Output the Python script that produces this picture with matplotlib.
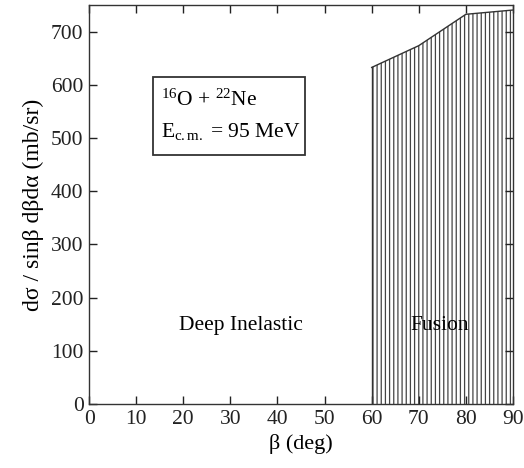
import matplotlib
matplotlib.use("Agg")
import matplotlib.pyplot as plt
from matplotlib.patches import Rectangle

beta = [60, 70, 80, 90]
sigma = [633, 674, 733, 741]
xticks = [0, 10, 20, 30, 40, 50, 60, 70, 80, 90]
yticks = [0, 100, 200, 300, 400, 500, 600, 700]

plt.rcParams['font.family'] = ['Liberation Serif', 'DejaVu Serif']
plt.rcParams['mathtext.fontset'] = 'custom'
plt.rcParams['mathtext.rm'] = 'Liberation Serif'
plt.rcParams['mathtext.it'] = 'Liberation Serif:italic'
plt.rcParams['hatch.linewidth'] = 0.9
plt.rcParams['hatch.color'] = '#444444'

fig = plt.figure(figsize=(5.24, 4.68), dpi=100)
ax = fig.add_axes([0.170, 0.1368, 0.809, 0.852])

ax.fill_between(beta, 0, sigma, facecolor='white', edgecolor='#444444',
                hatch='||||', linewidth=0)
ax.plot(beta, sigma, color='#333333', lw=1.0)
ax.plot([beta[0], beta[0]], [0, sigma[0]], color='#333333', lw=1.0)

ax.set_xlim(0, 90)
ax.set_ylim(0, 750)
ax.set_xticks(xticks)
ax.set_yticks(yticks)
ax.tick_params(direction='in', top=True, right=True, length=6, width=1,
               labelsize=15.5, colors='#222222', pad=4)
for s in ax.spines.values():
    s.set_color('#333333')
    s.set_linewidth(1)

ax.set_xlabel('β (deg)', fontsize=16, labelpad=4)
ax.set_ylabel('dσ / sinβ dβdα (mb/sr)', fontsize=17, labelpad=5)

ax.add_patch(Rectangle((0.151, 0.624), 0.358, 0.196, transform=ax.transAxes,
                       facecolor='white', edgecolor='#333333', linewidth=1.3,
                       zorder=3))
ax.text(0.170, 0.762, '$^{16}$O + $^{22}$Ne', transform=ax.transAxes,
        fontsize=15.5, ha='left', va='center', zorder=4)
ax.text(0.170, 0.683, 'E$_{\\mathrm{c.m.}}$ = 95 MeV', transform=ax.transAxes,
        fontsize=15.5, ha='left', va='center', zorder=4)

ax.text(32.3, 147, 'Deep Inelastic', fontsize=15.5, ha='center', va='center')
ax.text(74.5, 147, 'Fusion', fontsize=15.5, ha='center', va='center')

fig.savefig('out.png', dpi=100)
